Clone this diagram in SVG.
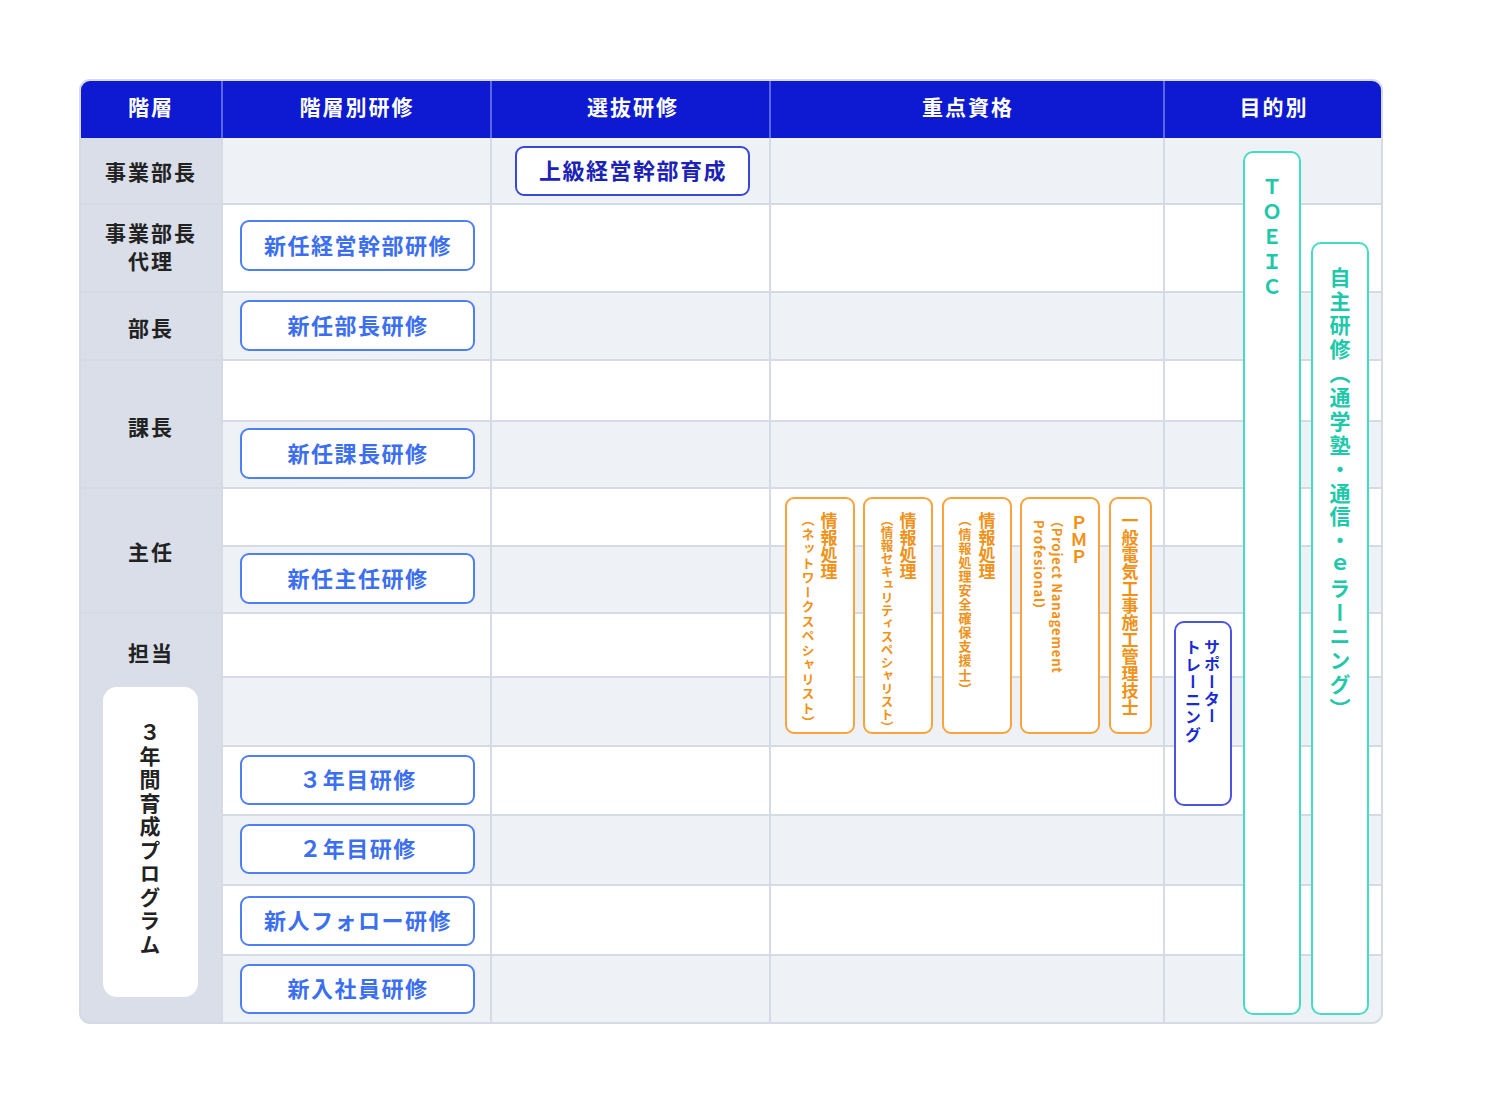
<svg xmlns="http://www.w3.org/2000/svg" width="1486" height="1120" viewBox="0 0 1486 1120">
<style>
text{font-family:"Noto Sans CJK JP","Noto Sans",sans-serif;font-weight:bold}
.hd{fill:#fff;font-size:21px;letter-spacing:2px;text-anchor:middle;dominant-baseline:central}
.lv{fill:#222;font-size:21px;letter-spacing:2px;text-anchor:middle;dominant-baseline:central}
.bb{fill:#fff;stroke:#4f80f3;stroke-width:2}
.bt{fill:#3b6ef0;font-size:22px;letter-spacing:1.5px;text-anchor:middle;dominant-baseline:central}
.ob{fill:#fff;stroke:#f9a33a;stroke-width:2}
.v{writing-mode:vertical-rl}
.o1{fill:#f29118;font-size:17px}
.o2{fill:#f29118;font-size:13px}
.tb{fill:#fff;stroke:#45dcc4;stroke-width:2}
.tt{fill:#1ec9a9}
.row{fill:#eef1f6}
.ln{stroke:#d5dae4;stroke-width:2}
</style>
<defs>
<clipPath id="tbl"><rect x="80" y="80" width="1302" height="943" rx="10"/></clipPath>
</defs>
<rect width="1486" height="1120" fill="#fff"/>
<g id="table" clip-path="url(#tbl)">
<rect x="80" y="80" width="1302" height="943" fill="#fff"/>
<rect class="row" x="222" y="138" width="1160" height="66"/>
<rect class="row" x="222" y="292" width="1160" height="68"/>
<rect class="row" x="222" y="421" width="1160" height="67"/>
<rect class="row" x="222" y="546" width="1160" height="67"/>
<rect class="row" x="222" y="677" width="1160" height="69"/>
<rect class="row" x="222" y="815" width="1160" height="70"/>
<rect class="row" x="222" y="955" width="1160" height="68"/>
<rect x="80" y="138" width="142" height="885" fill="#d9dee8"/>
<g class="ln">
<line x1="80" y1="204" x2="1382" y2="204"/>
<line x1="80" y1="292" x2="1382" y2="292"/>
<line x1="80" y1="360" x2="1382" y2="360"/>
<line x1="80" y1="488" x2="1382" y2="488"/>
<line x1="80" y1="613" x2="1382" y2="613"/>
<line x1="222" y1="421" x2="1382" y2="421"/>
<line x1="222" y1="546" x2="1382" y2="546"/>
<line x1="222" y1="677" x2="1382" y2="677"/>
<line x1="222" y1="746" x2="1382" y2="746"/>
<line x1="222" y1="815" x2="1382" y2="815"/>
<line x1="222" y1="885" x2="1382" y2="885"/>
<line x1="222" y1="955" x2="1382" y2="955"/>
<line x1="222" y1="138" x2="222" y2="1023"/>
<line x1="491" y1="138" x2="491" y2="1023"/>
<line x1="770" y1="138" x2="770" y2="1023"/>
<line x1="1164" y1="138" x2="1164" y2="1023"/>
</g>
<rect x="80" y="80" width="1302" height="58" fill="#0d1ad2"/>
<g stroke="#5a66e4" stroke-width="2">
<line x1="222" y1="80" x2="222" y2="138"/>
<line x1="491" y1="80" x2="491" y2="138"/>
<line x1="770" y1="80" x2="770" y2="138"/>
<line x1="1164" y1="80" x2="1164" y2="138"/>
</g>
</g>
<rect x="80" y="80" width="1302" height="943" rx="10" fill="none" stroke="#d5dae4" stroke-width="2"/>

<g id="header">
<text class="hd" x="151" y="106">階層</text>
<text class="hd" x="357" y="106">階層別研修</text>
<text class="hd" x="633" y="106">選抜研修</text>
<text class="hd" x="968" y="106">重点資格</text>
<text class="hd" x="1274" y="106">目的別</text>
</g>

<g id="levels">
<text class="lv" x="151" y="171">事業部長</text>
<text class="lv" x="151" y="232">事業部長</text>
<text class="lv" x="151" y="260">代理</text>
<text class="lv" x="151" y="327">部長</text>
<text class="lv" x="151" y="426">課長</text>
<text class="lv" x="151" y="551">主任</text>
<text class="lv" x="151" y="652">担当</text>
</g>

<g id="program3">
<rect x="103" y="687" width="95" height="310" rx="14" fill="#fff"/>
<text class="v" x="150" y="722" style="fill:#222;font-size:21px;letter-spacing:2.5px">３年間育成プログラム</text>
</g>

<g id="n-keiei"><rect class="bb" x="241" y="221" width="233" height="49" rx="8"/><text class="bt" x="358" y="243.5">新任経営幹部研修</text></g>
<g id="n-bucho"><rect class="bb" x="241" y="301" width="233" height="49" rx="8"/><text class="bt" x="358" y="323.5">新任部長研修</text></g>
<g id="n-kacho"><rect class="bb" x="241" y="429" width="233" height="49" rx="8"/><text class="bt" x="358" y="451.5">新任課長研修</text></g>
<g id="n-shunin"><rect class="bb" x="241" y="554" width="233" height="49" rx="8"/><text class="bt" x="358" y="576.5">新任主任研修</text></g>
<g id="n-3nen"><rect class="bb" x="241" y="756" width="233" height="48" rx="8"/><text class="bt" x="358" y="778">３年目研修</text></g>
<g id="n-2nen"><rect class="bb" x="241" y="825" width="233" height="48" rx="8"/><text class="bt" x="358" y="847">２年目研修</text></g>
<g id="n-follow"><rect class="bb" x="241" y="897" width="233" height="48" rx="8"/><text class="bt" x="358" y="919">新人フォロー研修</text></g>
<g id="n-shinnyu"><rect class="bb" x="241" y="965" width="233" height="48" rx="8"/><text class="bt" x="358" y="987">新入社員研修</text></g>

<g id="n-jokyu"><rect x="516" y="147" width="233" height="48" rx="8" fill="#fff" stroke="#3a48d8" stroke-width="2"/><text class="bt" x="633" y="169" style="fill:#1b22b8">上級経営幹部育成</text></g>

<g id="q-network"><rect class="ob" x="786" y="498" width="68" height="235" rx="8"/>
<text class="v o1" x="829" y="512">情報処理</text>
<text class="v o2" x="808" y="513" style="letter-spacing:1.5px">（ネットワークスペシャリスト）</text></g>
<g id="q-security"><rect class="ob" x="864" y="498" width="68" height="235" rx="8"/>
<text class="v o1" x="908" y="512">情報処理</text>
<text class="v o2" x="887" y="513" style="font-size:12.6px;letter-spacing:0.4px">（情報セキュリティスペシャリスト）</text></g>
<g id="q-anzen"><rect class="ob" x="943" y="498" width="68" height="235" rx="8"/>
<text class="v o1" x="987" y="512">情報処理</text>
<text class="v o2" x="965" y="513" style="letter-spacing:1.1px">（情報処理安全確保支援士）</text></g>
<g id="q-pmp"><rect class="ob" x="1021" y="498" width="78" height="235" rx="8"/>
<text class="v o1" x="1079" y="514">ＰＭＰ</text>
<text class="v o2" x="1057" y="514" style="letter-spacing:0.8px">（Project Nanagement</text>
<text class="v o2" x="1039" y="520" style="letter-spacing:0.9px">Profesional）</text></g>
<g id="q-denki"><rect class="ob" x="1110" y="498" width="41" height="235" rx="8"/>
<text class="v o1" x="1130" y="512">一般電気工事施工管理技士</text></g>

<g id="p-supporter"><rect x="1175" y="622" width="56" height="183" rx="9" fill="#fff" stroke="#4b55e0" stroke-width="2"/>
<text class="v" x="1212" y="639" style="fill:#1a2bd6;font-size:16px;letter-spacing:1.3px">サポーター</text>
<text class="v" x="1193" y="639" style="fill:#1a2bd6;font-size:16px;letter-spacing:1.6px">トレーニング</text></g>

<g id="p-toeic"><rect class="tb" x="1244" y="152" width="56" height="862" rx="9"/>
<text class="v tt" x="1272" y="177" style="font-size:20px;letter-spacing:5px">ＴＯＥＩＣ</text></g>

<g id="p-jishu"><rect class="tb" x="1312" y="243" width="56" height="771" rx="9"/>
<text class="v tt" x="1340" y="267" style="font-size:21px;letter-spacing:2.9px">自主研修（通学塾・通信・ｅラーニング）</text></g>
</svg>
